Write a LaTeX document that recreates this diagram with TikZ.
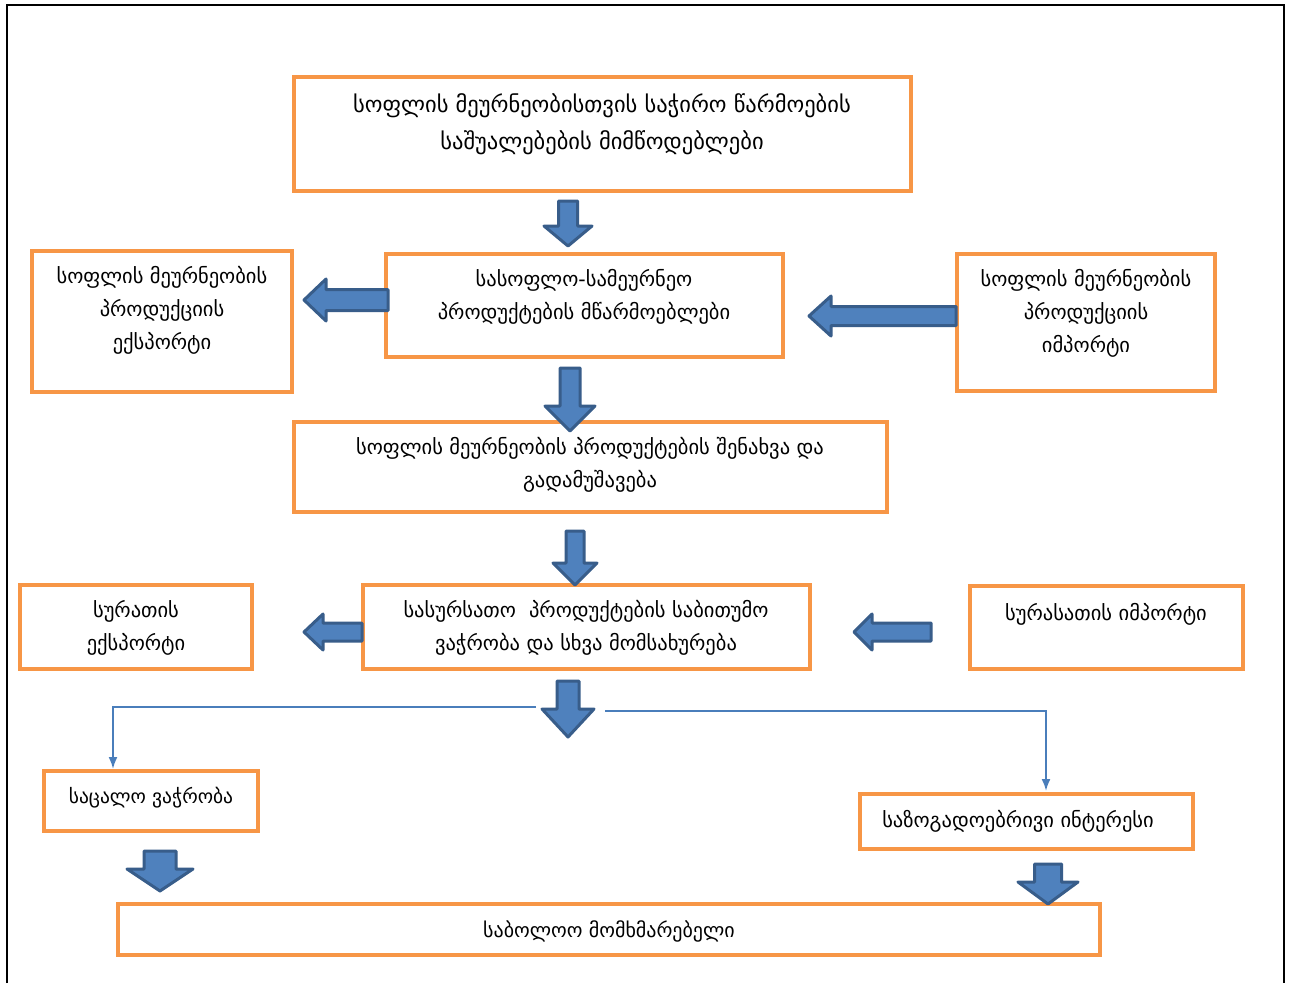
\documentclass[tikz,border=0pt]{standalone}
\usepackage{fontspec}
\newfontfamily\geo{DejaVu Sans}
\usetikzlibrary{arrows.meta}
\definecolor{orangebox}{HTML}{F79646}
\definecolor{arrfill}{HTML}{4F81BD}
\definecolor{arrdraw}{HTML}{385D8A}
\definecolor{thinblue}{HTML}{4A7EBB}
\tikzset{
  obox/.style={draw=orangebox, line width=4pt, inner sep=0pt, outer sep=0pt, fill=white},
  gtext/.style={font=\geo\fontsize{20.5}{33}\selectfont, align=center, inner sep=0pt},
  barrow/.style={draw=arrdraw, fill=arrfill, line width=3pt, line join=round},
  thin/.style={draw=thinblue, line width=2pt, -{Latex[length=12pt,width=9pt]}}
}
\newcommand\bdown[6]{\draw[barrow] ({#1-#5},#2) -- ({#1+#5},#2) -- ({#1+#5},#3) -- ({#1+#6},#3) -- (#1,#4) -- ({#1-#6},#3) -- ({#1-#5},#3) -- cycle;}
\newcommand\bleft[6]{\draw[barrow] (#2,{#1-#5}) -- (#2,{#1+#5}) -- (#3,{#1+#5}) -- (#3,{#1+#6}) -- (#4,#1) -- (#3,{#1-#6}) -- (#3,{#1-#5}) -- cycle;}
\begin{document}
\begin{tikzpicture}[x=1pt,y=-1pt]
\useasboundingbox (0,0) rectangle (1291,983);
\fill[white] (0,0) rectangle (1291,983);
\draw[black, line width=1.3pt] (7,983) -- (7,5) -- (1284,5) -- (1284,983);

% boxes
\node[obox, minimum width=617pt, minimum height=114pt] (b1) at (602.5,134) {};
\node[obox, minimum width=397pt, minimum height=103pt] (b2) at (584.5,305.5) {};
\node[obox, minimum width=260pt, minimum height=141pt] (b3) at (162,321.5) {};
\node[obox, minimum width=258pt, minimum height=137pt] (b4) at (1086,322.5) {};
\node[obox, minimum width=593pt, minimum height=90pt] (b5) at (590.5,467) {};
\node[obox, minimum width=447pt, minimum height=84pt] (b6) at (586.5,627) {};
\node[obox, minimum width=232pt, minimum height=84pt] (b7) at (136,627) {};
\node[obox, minimum width=273pt, minimum height=83pt] (b8) at (1106.5,627.5) {};
\node[obox, minimum width=214pt, minimum height=60pt] (b9) at (151,801) {};
\node[obox, minimum width=333pt, minimum height=55pt] (b10) at (1026.5,821.5) {};
\node[obox, minimum width=982pt, minimum height=51pt] (b11) at (609,929.5) {};

% texts
\node[gtext, font=\geo\fontsize{22.5}{37}\selectfont] (t1) at (602,124.5) {სოფლის მეურნეობისთვის საჭირო წარმოების\\საშუალებების მიმწოდებლები};
\node[gtext] (t2) at (584,297) {სასოფლო-სამეურნეო\\პროდუქტების მწარმოებლები};
\node[gtext] (t3) at (162,310) {სოფლის მეურნეობის\\პროდუქციის\\ექსპორტი};
\node[gtext] (t4) at (1086,313.5) {სოფლის მეურნეობის\\პროდუქციის\\იმპორტი};
\node[gtext] (t5) at (590,465) {სოფლის მეურნეობის პროდუქტების შენახვა და\\გადამუშავება};
\node[gtext] (t6) at (586,627.5) {სასურსათო\ \ პროდუქტების საბითუმო\\ვაჭრობა და სხვა მომსახურება};
\node[gtext] (t7) at (136,627.5) {სურათის\\ექსპორტი};
\node[gtext] (t8) at (1106,614) {სურასათის იმპორტი};
\node[gtext, font=\geo\fontsize{19.5}{33}\selectfont] (t9) at (151,798) {საცალო ვაჭრობა};
\node[gtext] (t10) at (1018,821) {საზოგადოებრივი ინტერესი};
\node[gtext, font=\geo\fontsize{20}{33}\selectfont] (t11) at (609,931) {საბოლოო მომხმარებელი};

% block arrows
\bdown{568}{201}{226}{246}{9.5}{24}
\bdown{570}{368}{406}{431}{10}{25}
\bdown{575}{531}{563}{585}{9}{22}
\bdown{568}{681}{709}{737}{11}{26}
\bdown{160}{851}{869}{891}{16}{33}
\bdown{1048}{864}{882}{904}{13.5}{30}
\bleft{300}{388}{326}{304}{10.5}{21}
\bleft{316}{956}{831}{809}{9.5}{20}
\bleft{632}{362}{323}{304}{9}{18}
\bleft{632}{931}{872}{854}{9}{18}

% thin connectors
\coordinate (l1) at (536,707);
\coordinate (l2) at (113,769);
\coordinate (r1) at (605,711);
\coordinate (r2) at (1046,791);
\draw[thin] (l1) -| (l2);
\draw[thin] (r1) -| (r2);
\end{tikzpicture}
\end{document}
